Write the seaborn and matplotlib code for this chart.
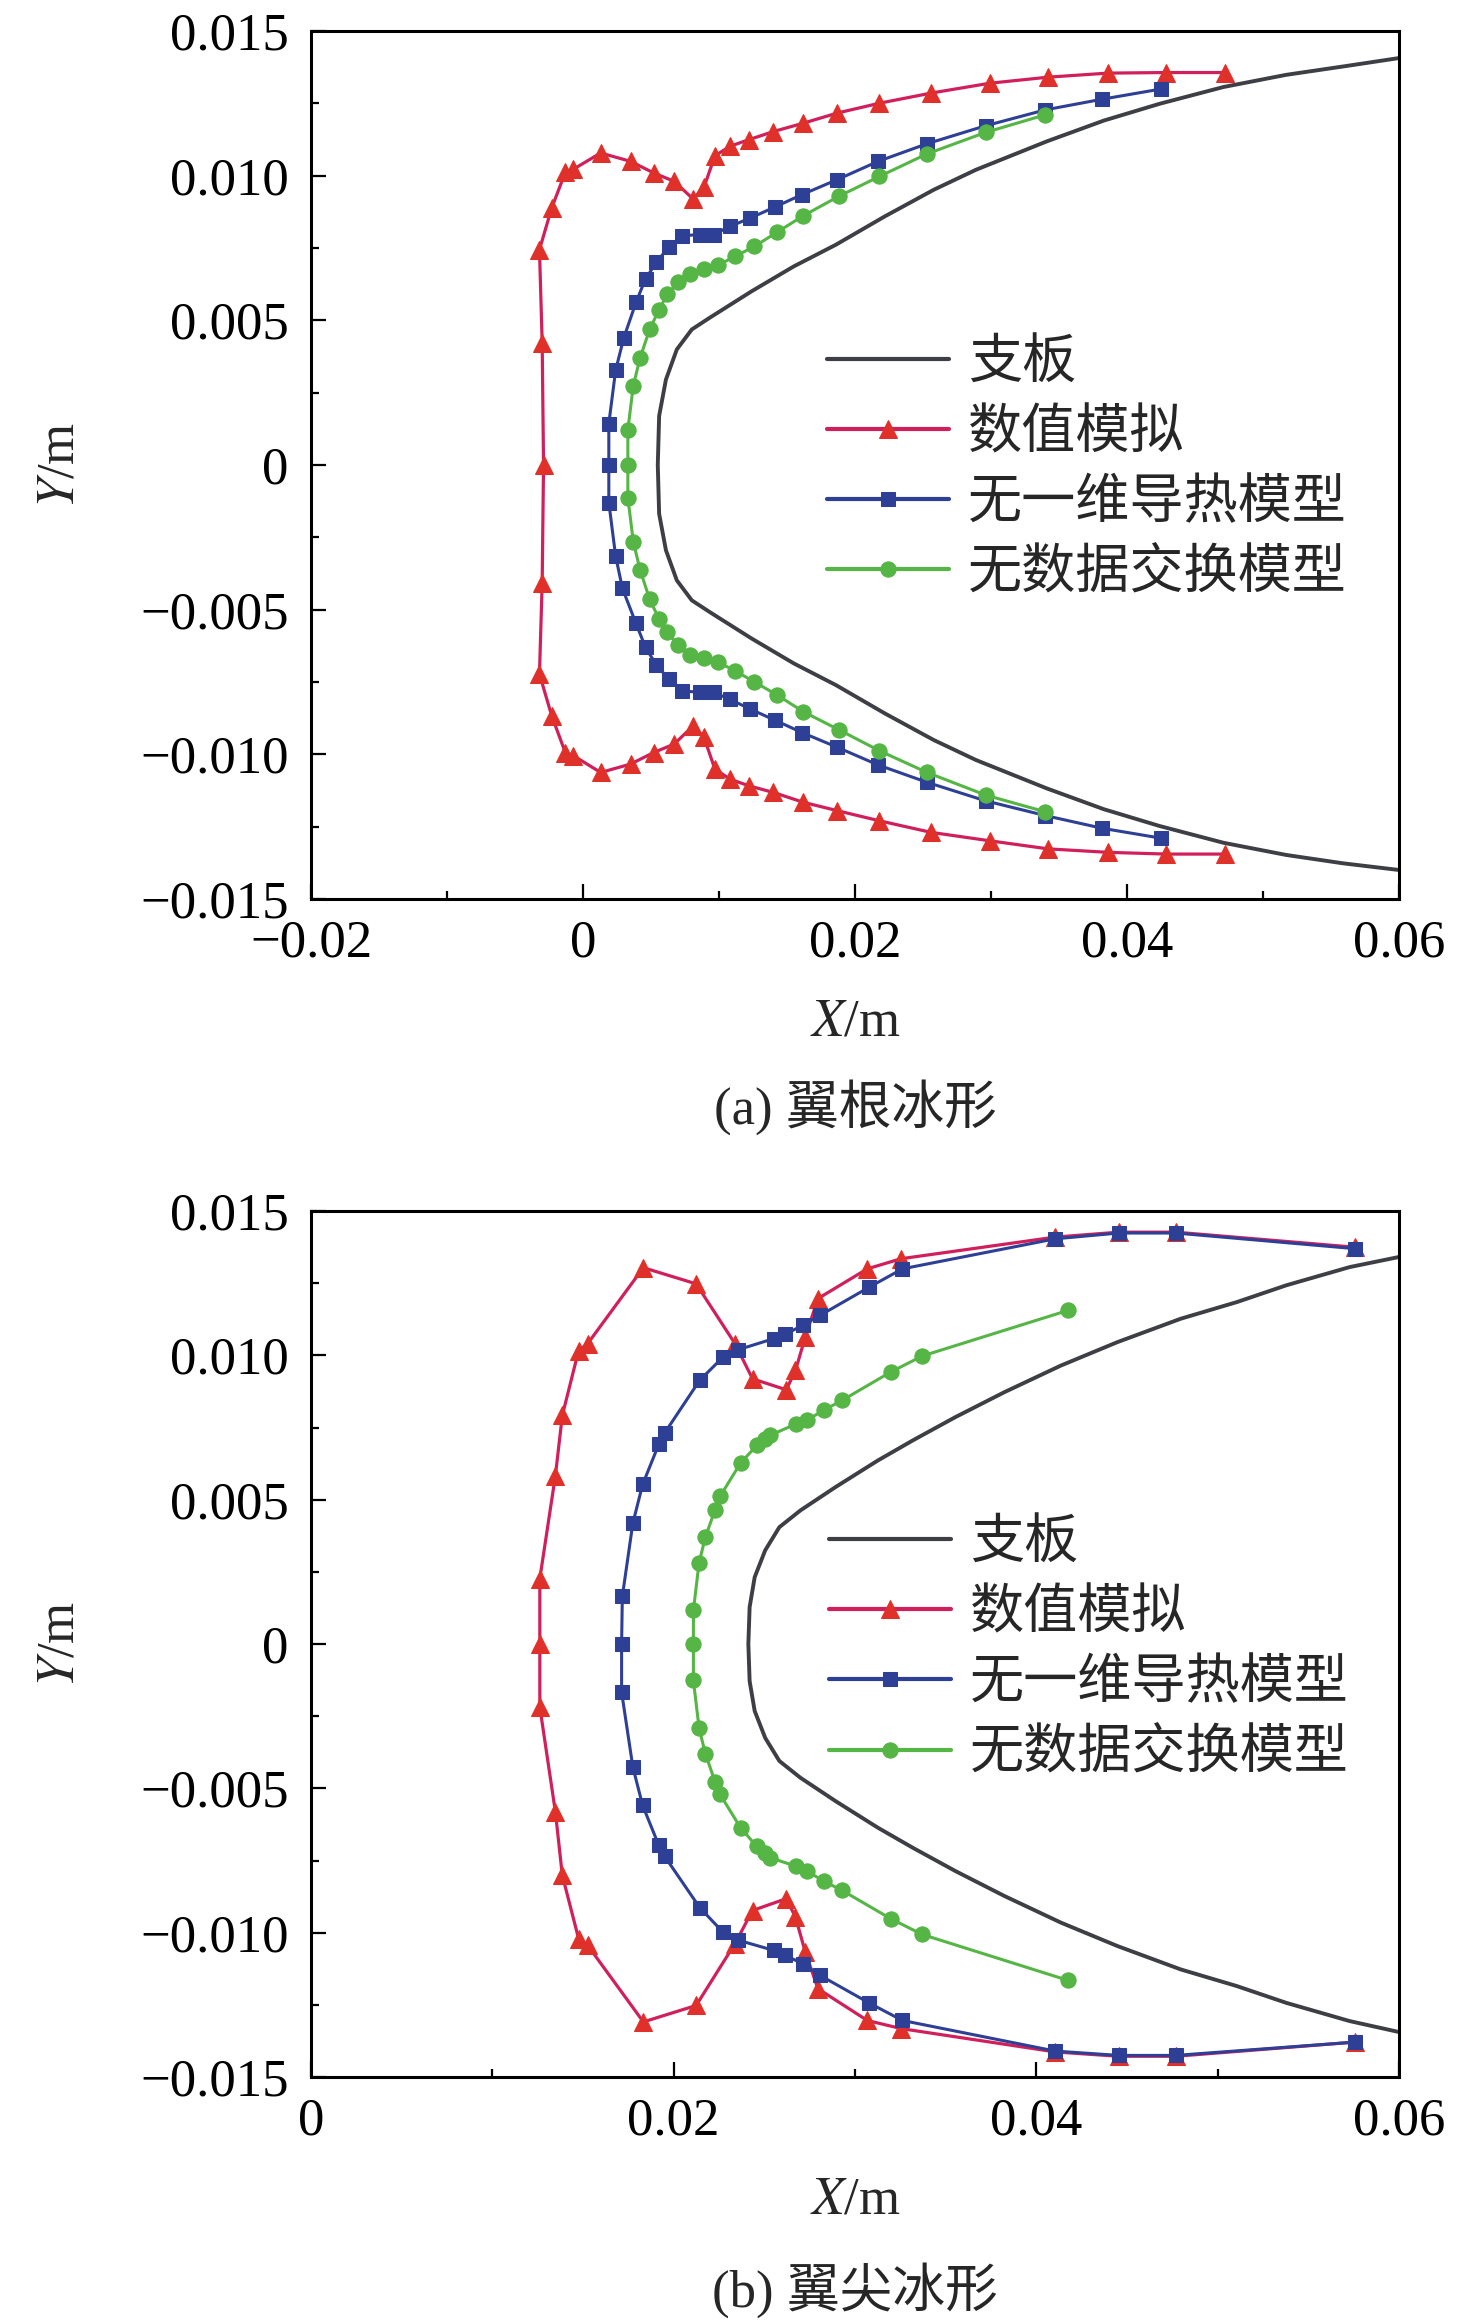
import numpy as np
import pandas as pd
import matplotlib
matplotlib.use("Agg")
import matplotlib.pyplot as plt
import seaborn as sns

# ---- legend names / captions
labels = ["支板", "数值模拟", "无一维导热模型", "无数据交换模型"]
captions = ["(a) 翼根冰形", "(b) 翼尖冰形"]

# ---- (a) wing root
root_strut_x = [0.0600, 0.0559, 0.0517, 0.0471, 0.0424, 0.0383, 0.0341, 0.0289, 0.0258, 0.0222,
                0.0186, 0.0155, 0.0124, 0.0093, 0.0080, 0.0069, 0.0061, 0.0056, 0.0055,
                0.0056, 0.0061, 0.0069, 0.0080, 0.0093, 0.0124, 0.0155, 0.0186, 0.0222,
                0.0258, 0.0289, 0.0341, 0.0383, 0.0424, 0.0471, 0.0517, 0.0559, 0.0600]
root_strut_y = [0.01406, 0.01377, 0.01348, 0.01306, 0.01248, 0.0119, 0.01118, 0.0102, 0.00951, 0.00859,
                0.00761, 0.00686, 0.0060, 0.00508, 0.00468, 0.00399, 0.00295, 0.00169, 0.0,
                -0.00169, -0.00295, -0.00399, -0.00468, -0.00508, -0.0060, -0.00686, -0.00761, -0.00859,
                -0.00951, -0.0102, -0.01118, -0.0119, -0.01248, -0.01306, -0.01348, -0.01377, -0.0140]

root_sim_x = [0.0472, 0.0429, 0.0386, 0.0342, 0.0299, 0.0256, 0.0218, 0.0187, 0.0162, 0.0140,
              0.0122, 0.0108, 0.0097, 0.0089, 0.0081, 0.0067, 0.0052, 0.0035, 0.0013, -0.0007,
              -0.0013, -0.0023, -0.0032, -0.0030, -0.0029,
              -0.0030, -0.0032, -0.0023, -0.0013, -0.0007, 0.0013, 0.0035, 0.0052, 0.0067, 0.0081,
              0.0089, 0.0097, 0.0108, 0.0122, 0.0140, 0.0162, 0.0187, 0.0218, 0.0256, 0.0299,
              0.0342, 0.0386, 0.0429, 0.0472]
root_sim_y = [0.01356, 0.01356, 0.01354, 0.0134, 0.01319, 0.01285, 0.0125, 0.01216, 0.01181, 0.01152,
              0.01124, 0.01101, 0.01068, 0.0096, 0.00919, 0.0098, 0.01009, 0.01049, 0.01078, 0.01022,
              0.01011, 0.00888, 0.00744, 0.00422, 0.0,
              -0.00407, -0.00723, -0.00867, -0.00994, -0.01005, -0.01063, -0.01034, -0.00994, -0.00965, -0.00902,
              -0.00942, -0.01051, -0.01086, -0.01109, -0.01132, -0.01166, -0.01195, -0.0123, -0.0127, -0.01299,
              -0.01327, -0.01339, -0.01345, -0.01345]

root_nocond_x = [0.0425, 0.0382, 0.0340, 0.0296, 0.0253, 0.0217, 0.0187, 0.0161, 0.0141, 0.0123,
                 0.0108, 0.0096, 0.0086, 0.0073, 0.0063, 0.0054, 0.0046, 0.0039, 0.0030, 0.0024,
                 0.0019, 0.0019,
                 0.0019, 0.0024, 0.0029, 0.0039, 0.0046, 0.0054, 0.0063, 0.0073, 0.0086, 0.0096,
                 0.0108, 0.0123, 0.0141, 0.0161, 0.0187, 0.0217, 0.0253, 0.0296, 0.0340, 0.0382, 0.0425]
root_nocond_y = [0.01299, 0.01264, 0.01227, 0.01172, 0.0111, 0.01049, 0.00986, 0.00934, 0.00891, 0.00853,
                 0.00824, 0.00796, 0.00796, 0.00792, 0.00753, 0.0070, 0.00643, 0.00562, 0.00439, 0.00327,
                 0.00143, 0.0,
                 -0.0013, -0.00315, -0.00427, -0.00548, -0.00631, -0.00692, -0.0074, -0.00781, -0.00786, -0.00786,
                 -0.0081, -0.00844, -0.00882, -0.00925, -0.00976, -0.01037, -0.01097, -0.01161, -0.01212, -0.01256, -0.0129]

root_noex_x = [0.0340, 0.0296, 0.0253, 0.0218, 0.0188, 0.0162, 0.0143, 0.0126, 0.0112, 0.0099,
               0.0089, 0.0079, 0.0070, 0.0062, 0.0056, 0.0049, 0.0042, 0.0037, 0.0033, 0.0033,
               0.0033, 0.0037, 0.0042, 0.0049, 0.0056, 0.0062, 0.0070, 0.0079, 0.0089, 0.0099,
               0.0112, 0.0126, 0.0143, 0.0162, 0.0188, 0.0218, 0.0253, 0.0296, 0.0340]
root_noex_y = [0.0121, 0.01149, 0.01075, 0.00997, 0.00928, 0.00861, 0.00805, 0.00755, 0.00721, 0.0069,
               0.00677, 0.00661, 0.00631, 0.00589, 0.00537, 0.00468, 0.0037, 0.00274, 0.00122, 0.0,
               -0.00113, -0.00266, -0.00363, -0.00464, -0.00533, -0.00579, -0.00623, -0.00658, -0.00669, -0.00681,
               -0.00712, -0.0075, -0.00796, -0.00853, -0.00915, -0.00988, -0.01063, -0.01141, -0.01199]

# ---- (b) wing tip
tip_strut_x = [0.0600, 0.05728, 0.05379, 0.05107, 0.04796, 0.04447, 0.04136, 0.03825, 0.03553, 0.0332,
               0.03126, 0.02893, 0.02699, 0.02583, 0.02505, 0.02447, 0.02419, 0.02412,
               0.02419, 0.02447, 0.02505, 0.02583, 0.02699, 0.02893, 0.03126, 0.0332, 0.03553,
               0.03825, 0.04136, 0.04447, 0.04796, 0.05107, 0.05379, 0.05728, 0.0600]
tip_strut_y = [0.01341, 0.01306, 0.01243, 0.01185, 0.01127, 0.01046, 0.00965, 0.00873, 0.00786, 0.00706,
               0.00636, 0.00544, 0.00463, 0.00405, 0.00325, 0.00232, 0.00128, 0.0,
               -0.00128, -0.00232, -0.00325, -0.00405, -0.00463, -0.00544, -0.00636, -0.00706, -0.00786,
               -0.00873, -0.00965, -0.01046, -0.01127, -0.01185, -0.01243, -0.01306, -0.01344]

tip_sim_x = [0.05755, 0.04769, 0.04454, 0.04105, 0.03254, 0.03068, 0.02796, 0.02726, 0.02672, 0.02621,
             0.02435, 0.02338, 0.02124, 0.01833, 0.01526, 0.01476, 0.01386, 0.01348, 0.01262, 0.01262,
             0.01262, 0.01348, 0.01386, 0.01476, 0.01526, 0.01833, 0.02124, 0.02338, 0.02435, 0.02621,
             0.02672, 0.02726, 0.02796, 0.03068, 0.03254, 0.04105, 0.04454, 0.04769, 0.05755]
tip_sim_y = [0.01375, 0.01427, 0.01427, 0.0141, 0.01335, 0.0130, 0.01197, 0.01064, 0.00948, 0.00881,
             0.00919, 0.01041, 0.01248, 0.01304, 0.01041, 0.01017, 0.00792, 0.00584, 0.00227, 0.0,
             -0.00218, -0.00582, -0.00801, -0.01021, -0.01044, -0.01309, -0.01252, -0.01038, -0.00923, -0.00882,
             -0.00946, -0.01067, -0.01194, -0.01304, -0.01332, -0.01413, -0.01428, -0.01428, -0.01379]

tip_nocond_x = [0.05755, 0.04769, 0.04454, 0.04105, 0.03262, 0.0308, 0.02808, 0.02711, 0.02614, 0.02551,
                0.02357, 0.02272, 0.02144, 0.0195, 0.01918, 0.01829, 0.01775, 0.01717, 0.01713,
                0.01713, 0.01775, 0.01829, 0.01918, 0.0195, 0.02144, 0.02272, 0.02357, 0.02551,
                0.02614, 0.02711, 0.02808, 0.0308, 0.03262, 0.04105, 0.04454, 0.04769, 0.05755]
tip_nocond_y = [0.0137, 0.01424, 0.01424, 0.01404, 0.0130, 0.01237, 0.01139, 0.01104, 0.01073, 0.01058,
                0.0102, 0.00994, 0.00914, 0.00731, 0.00692, 0.00553, 0.00419, 0.00165, 0.0,
                -0.00166, -0.00426, -0.00559, -0.00697, -0.00735, -0.00913, -0.00998, -0.01026, -0.01061,
                -0.01078, -0.01107, -0.01148, -0.01244, -0.01304, -0.0141, -0.01425, -0.01425, -0.01379]

tip_noex_x = [0.04175, 0.03371, 0.03196, 0.02928, 0.02827, 0.02734, 0.02676, 0.02532, 0.02505, 0.02458,
              0.02369, 0.02256, 0.02229, 0.02175, 0.0214, 0.02109, 0.02109,
              0.02109, 0.0214, 0.02175, 0.02229, 0.02256, 0.02369, 0.02458, 0.02505, 0.02532,
              0.02676, 0.02734, 0.02827, 0.02928, 0.03196, 0.03371, 0.04175]
tip_noex_y = [0.01156, 0.00998, 0.00942, 0.00844, 0.0081, 0.00775, 0.00763, 0.00723, 0.00711, 0.00688,
              0.00627, 0.00512, 0.00466, 0.00371, 0.00281, 0.00117, 0.0,
              -0.00126, -0.0029, -0.0038, -0.00478, -0.00521, -0.00636, -0.00701, -0.00724, -0.0074,
              -0.0077, -0.00786, -0.00821, -0.00853, -0.00951, -0.01006, -0.01165]

# ---- ticks
root_xticks = [-0.02, 0, 0.02, 0.04, 0.06]
root_xticklabels = ["\u22120.02", "0", "0.02", "0.04", "0.06"]
root_xminor = [-0.01, 0.01, 0.03, 0.05]
tip_xticks = [0, 0.02, 0.04, 0.06]
tip_xticklabels = ["0", "0.02", "0.04", "0.06"]
tip_xminor = [0.01, 0.03, 0.05]
yticks = [0.015, 0.010, 0.005, 0, -0.005, -0.010, -0.015]
yticklabels = ["0.015", "0.010", "0.005", "0", "\u22120.005", "\u22120.010", "\u22120.015"]
yminor = [0.0125, 0.0075, 0.0025, -0.0025, -0.0075, -0.0125]

sns.set_style("ticks")
plt.rcParams["font.family"] = ["Liberation Serif", "Noto Sans CJK SC"]
plt.rcParams["mathtext.fontset"] = "stix"
plt.rcParams["axes.unicode_minus"] = True

FS = 38
c_strut, c_red_line, c_red_mk = "#3d3f45", "#d11f5c", "#e0302a"
c_blue, c_green = "#2e3f96", "#55b545"

fig = plt.figure(figsize=(14.76, 23.21), dpi=100)
ax_root = fig.add_axes([0.2107, 0.6127, 0.7371, 0.3740])
ax_tip = fig.add_axes([0.2107, 0.1051, 0.7371, 0.3731])


def draw(ax, strut, sim, nocond, noex):
    sns.lineplot(x=strut[0], y=strut[1], sort=False, estimator=None, ax=ax,
                 color=c_strut, linewidth=2.8, label=labels[0])
    sns.lineplot(x=sim[0], y=sim[1], sort=False, estimator=None, ax=ax,
                 color=c_red_line, linewidth=2.3, marker="^", markersize=13.5,
                 markerfacecolor=c_red_mk, markeredgecolor=c_red_mk, label=labels[1])
    sns.lineplot(x=nocond[0], y=nocond[1], sort=False, estimator=None, ax=ax,
                 color=c_blue, linewidth=2.2, marker="s", markersize=10.5,
                 markerfacecolor=c_blue, markeredgecolor=c_blue, label=labels[2])
    sns.lineplot(x=noex[0], y=noex[1], sort=False, estimator=None, ax=ax,
                 color=c_green, linewidth=2.2, marker="o", markersize=11,
                 markerfacecolor=c_green, markeredgecolor=c_green, label=labels[3])


def style(ax, xlim, xticks, xticklabels, xminor, leg_anchor, caption, cap_y):
    ax.set_xlim(*xlim)
    ax.set_ylim(-0.015, 0.015)
    ax.set_xticks(xticks)
    ax.set_xticklabels(xticklabels)
    ax.set_xticks(xminor, minor=True)
    ax.set_yticks(yticks)
    ax.set_yticklabels(yticklabels)
    ax.set_yticks(yminor, minor=True)
    for s in ax.spines.values():
        s.set_linewidth(2.2)
        s.set_color("black")
    ax.tick_params(which="both", direction="in", top=False, right=False,
                   width=1.6, colors="black", labelsize=FS)
    ax.tick_params(which="major", length=11)
    ax.tick_params(which="minor", length=6)
    ax.tick_params(axis="x", which="major", pad=15)
    ax.tick_params(axis="y", which="major", pad=16)
    ax.set_xlabel("$X$/m", fontsize=FS, va="center")
    ax.xaxis.set_label_coords(0.5, -0.142)
    ax.set_ylabel("$Y$/m", fontsize=FS, va="center", ha="center")
    ax.yaxis.set_label_coords(-0.23, 0.5)
    leg = ax.legend(loc="center left", bbox_to_anchor=leg_anchor, frameon=False,
                    fontsize=FS + 1, handlelength=2.25, handletextpad=0.36,
                    labelspacing=0.36, borderpad=0, borderaxespad=0)
    for h in leg.get_lines():
        h.set_linewidth(3.0)
    fig.text(0.5793, cap_y, caption, fontsize=FS, ha="center", va="center")


draw(ax_root, (root_strut_x, root_strut_y), (root_sim_x, root_sim_y),
     (root_nocond_x, root_nocond_y), (root_noex_x, root_noex_y))
style(ax_root, (-0.02, 0.06), root_xticks, root_xticklabels, root_xminor,
      (0.474, 0.494), captions[0], 1 - 1107 / 2321)

draw(ax_tip, (tip_strut_x, tip_strut_y), (tip_sim_x, tip_sim_y),
     (tip_nocond_x, tip_nocond_y), (tip_noex_x, tip_noex_y))
style(ax_tip, (0, 0.06), tip_xticks, tip_xticklabels, tip_xminor,
      (0.476, 0.493), captions[1], 1 - 2290 / 2321)

fig.savefig("out.png", dpi=100)
